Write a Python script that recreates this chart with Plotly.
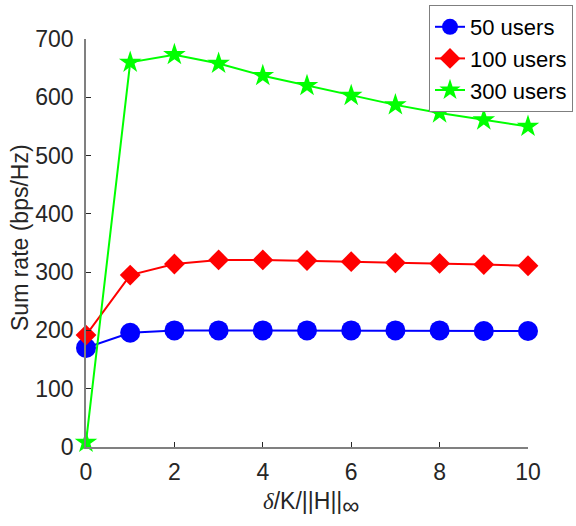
import plotly.graph_objects as go

x_vals = [0, 1, 2, 3, 4, 5, 6, 7, 8, 9, 10]
users_50 = [170, 196, 200, 200, 200, 200, 200, 200, 200, 199, 199]
users_100 = [192, 295, 314, 321, 321, 320, 318, 316, 315, 313, 311]
users_300 = [8, 660, 673, 658, 637, 620, 603, 587, 573, 561, 550]
series_names = ["50 users", "100 users", "300 users"]
colors = ["#0000ff", "#ff0000", "#00ff00"]
symbols = ["circle", "diamond", "star"]
sizes = [20, 16, 17]

W, H = 576, 526
fig = go.Figure()
for name, ys, c, s, sz in zip(series_names, [users_50, users_100, users_300], colors, symbols, sizes):
    fig.add_trace(go.Scatter(
        x=x_vals, y=ys, name=name, mode="lines+markers",
        line=dict(color=c, width=2),
        marker=dict(symbol=s, size=sz, color=c, line=dict(width=0)),
        cliponaxis=False,
    ))

font_family = "Liberation Sans, Arial, sans-serif"
tick_color = "#262626"
xtitle = ('<span style="font-family:\'Liberation Serif\', serif"><i>δ</i></span>/K/||H||'
          '<sub><span style="font-size:24px">∞</span></sub>')
fig.update_layout(
    width=W, height=H,
    margin=dict(l=0, r=0, t=0, b=0),
    paper_bgcolor="white", plot_bgcolor="white",
    font=dict(family=font_family, size=23, color=tick_color),
    showlegend=True,
    legend=dict(
        x=573 / W, y=(H - 5) / H, xanchor="right", yanchor="top",
        bordercolor="#7f7f7f", borderwidth=1, bgcolor="white",
        font=dict(size=22, color="black"),
        itemwidth=30, tracegroupgap=0,
    ),
    xaxis=dict(
        domain=[86 / W, 528 / W], automargin=False,
        range=[0, 10], tickvals=[0, 2, 4, 6, 8, 10], showgrid=False, zeroline=False,
        showline=True, linecolor="#808080", linewidth=1.5,
        ticks="inside", ticklen=5, tickcolor=tick_color,
        tickfont=dict(size=23, color=tick_color), ticklabelstandoff=4,
    ),
    yaxis=dict(
        domain=[(H - 447) / H, (H - 39) / H], automargin=False,
        range=[0, 700], tickvals=[0, 100, 200, 300, 400, 500, 600, 700], showgrid=False, zeroline=False,
        showline=True, linecolor="#808080", linewidth=1.5,
        ticks="inside", ticklen=5, tickcolor=tick_color,
        tickfont=dict(size=23, color=tick_color), ticklabelstandoff=6,
    ),
    annotations=[
        dict(text=xtitle, xref="paper", yref="paper",
             x=311 / W, y=(H - 503) / H, xanchor="center", yanchor="middle",
             showarrow=False, font=dict(size=23, color=tick_color, family=font_family)),
        dict(text="Sum rate (bps/Hz)", xref="paper", yref="paper",
             x=20 / W, y=(H - 238) / H, xanchor="center", yanchor="middle", textangle=-90,
             showarrow=False, font=dict(size=23, color=tick_color, family=font_family)),
    ],
)

fig.write_html("out.html")
